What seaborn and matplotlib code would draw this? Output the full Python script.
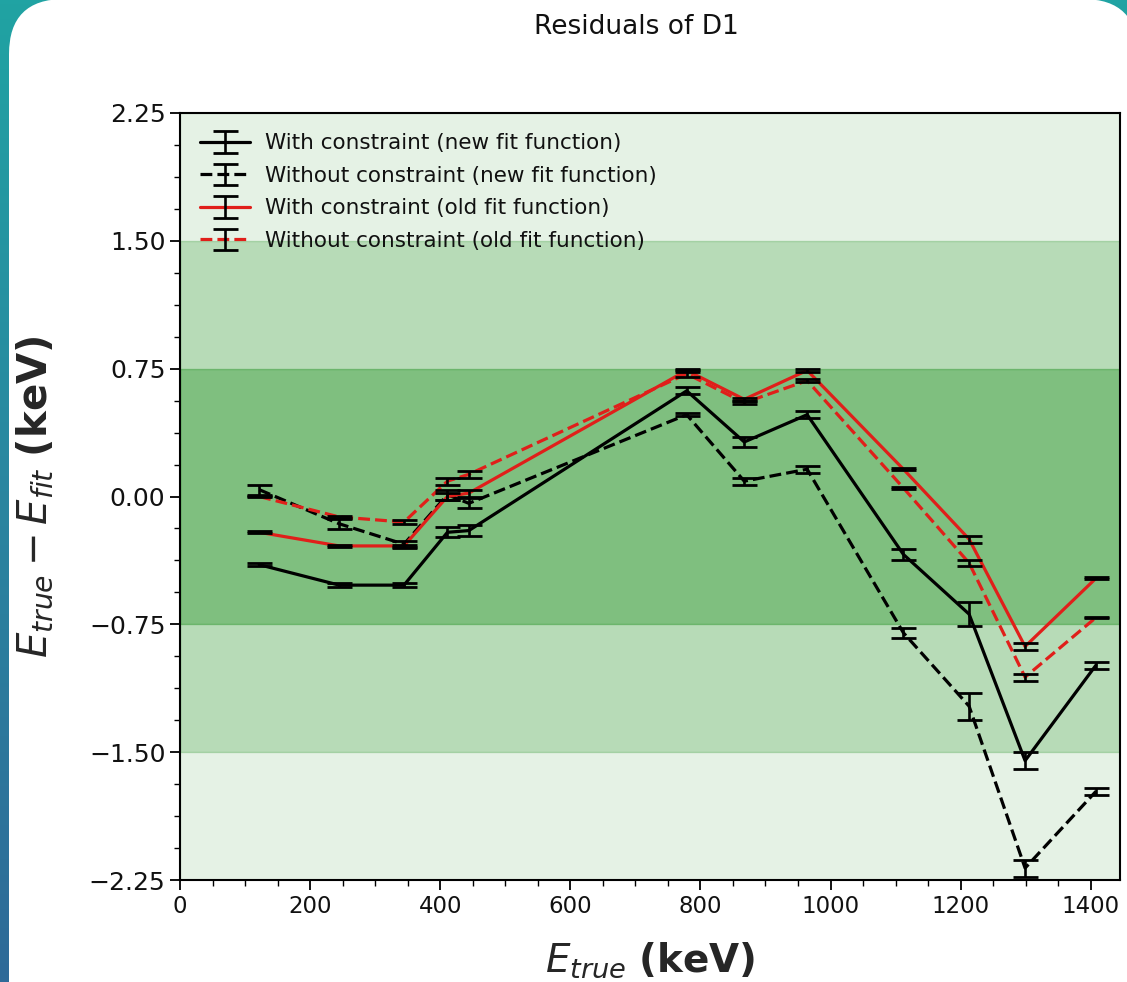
import numpy as np
import pandas as pd
import matplotlib
matplotlib.use("Agg")
import matplotlib.pyplot as plt
import seaborn as sns
from matplotlib.patches import FancyBboxPatch
from matplotlib.transforms import IdentityTransform
from matplotlib.ticker import MultipleLocator, FixedLocator
from matplotlib.legend_handler import HandlerTuple
from matplotlib.colors import LinearSegmentedColormap

# ---- data (Eu-152 lines, keV) ----
energies = [121.8, 244.7, 344.3, 411.1, 444.0, 778.9, 867.4, 964.1, 1112.1, 1213.0, 1299.1, 1408.0]

with_new = [-0.40, -0.52, -0.52, -0.21, -0.20, 0.62, 0.32, 0.48, -0.34, -0.69, -1.55, -0.99]
with_new_err = [0.01, 0.01, 0.01, 0.03, 0.03, 0.02, 0.03, 0.02, 0.03, 0.07, 0.05, 0.02]

without_new = [0.04, -0.16, -0.28, 0.01, -0.04, 0.48, 0.09, 0.16, -0.80, -1.23, -2.18, -1.73]
without_new_err = [0.03, 0.03, 0.02, 0.03, 0.03, 0.01, 0.02, 0.02, 0.03, 0.08, 0.05, 0.02]

with_old = [-0.21, -0.29, -0.29, 0.00, 0.02, 0.74, 0.57, 0.74, 0.16, -0.25, -0.88, -0.48]
with_old_err = [0.005, 0.005, 0.005, 0.02, 0.02, 0.01, 0.01, 0.01, 0.005, 0.02, 0.02, 0.005]

without_old = [0.00, -0.12, -0.15, 0.09, 0.13, 0.72, 0.55, 0.68, 0.05, -0.39, -1.06, -0.71]
without_old_err = [0.005, 0.005, 0.01, 0.02, 0.02, 0.02, 0.01, 0.01, 0.005, 0.02, 0.02, 0.005]

labels = ["With constraint (new fit function)",
          "Without constraint (new fit function)",
          "With constraint (old fit function)",
          "Without constraint (old fit function)"]

y_ticks = [-2.25, -1.50, -0.75, 0.00, 0.75, 1.50, 2.25]
x_ticks = [0, 200, 400, 600, 800, 1000, 1200, 1400]

series = [
    (with_new, with_new_err, "black", "-"),
    (without_new, without_new_err, "black", "--"),
    (with_old, with_old_err, "#e01f1a", "-"),
    (without_old, without_old_err, "#e01f1a", "--"),
]

sns.set_theme(style="ticks")
plt.rcParams["font.family"] = ["DejaVu Sans"]
plt.rcParams["mathtext.fontset"] = "dejavusans"

W, H = 1127, 982
fig = plt.figure(figsize=(W / 100, H / 100), dpi=100)
fig.patch.set_facecolor("#239a9f")

# teal gradient backdrop
bg = fig.add_axes([0, 0, 1, 1], zorder=-20)
grad = np.linspace(0, 1, 256).reshape(-1, 1)
cmap = LinearSegmentedColormap.from_list("teal", ["#20a3a3", "#2a86a0", "#2f6a98"])
bg.imshow(grad, aspect="auto", cmap=cmap, extent=[0, 1, 1, 0])
bg.set_axis_off()

panel = FancyBboxPatch((9, -80), W + 2, H + 81,
                       boxstyle="round,pad=0,rounding_size=55",
                       transform=IdentityTransform(), facecolor="white",
                       edgecolor="none", zorder=-10)
fig.patches.append(panel)

ax = fig.add_axes([180 / W, 1 - 880 / H, (1120 - 180) / W, (880 - 113) / H])

# confidence bands
ax.axhspan(-2.25, 2.25, color="green", alpha=0.1, zorder=0)
ax.axhspan(-1.5, 1.5, color="green", alpha=0.2, zorder=0)
ax.axhspan(-0.75, 0.75, color="green", alpha=0.3, zorder=0)

handles = []
for (vals, errs, col, ls), lab in zip(series, labels):
    df = pd.DataFrame({"E": energies, "res": vals})
    n_before = len(ax.lines)
    sns.lineplot(data=df, x="E", y="res", color=col, linestyle=ls,
                 linewidth=2.3, ax=ax, legend=False, zorder=3)
    line = ax.lines[n_before]
    eb = ax.errorbar(energies, vals, yerr=errs, fmt="none", ecolor="black",
                     elinewidth=1.9, capsize=9, capthick=2.0, zorder=4)
    handles.append((line, eb))

ax.set_xlim(0, 1445)
ax.set_ylim(-2.25, 2.25)
ax.xaxis.set_major_locator(FixedLocator(x_ticks))
ax.xaxis.set_minor_locator(MultipleLocator(50))
ax.yaxis.set_major_locator(FixedLocator(y_ticks))
ax.yaxis.set_minor_locator(MultipleLocator(0.1875))
ax.set_yticklabels([f"{v:.2f}".replace("-", "\u2212") for v in y_ticks])
ax.set_xticklabels([str(v) for v in x_ticks])
ax.tick_params(axis="both", which="major", length=7, width=1.3,
               color="black", labelcolor="#111111", direction="out")
ax.tick_params(axis="x", which="major", labelsize=16.5)
ax.tick_params(axis="y", which="major", labelsize=18)
ax.tick_params(axis="both", which="minor", length=4, width=1.0, color="black",
               direction="out")
for sp in ax.spines.values():
    sp.set_color("black")
    sp.set_linewidth(1.5)
    sp.set_visible(True)

ax.set_xlabel(r"$E_{true}$ $\mathbf{(keV)}$", fontsize=28)
ax.xaxis.set_label_coords(0.5, (880 - 960) / 767, transform=ax.transAxes)
ax.xaxis.label.set_va("center")
ax.set_ylabel(r"$E_{true} - E_{fit}$ $\mathbf{(keV)}$", fontsize=29)
ax.yaxis.set_label_coords((35 - 180) / 940, 0.5, transform=ax.transAxes)
ax.yaxis.label.set_va("center")

leg = ax.legend(handles, labels, loc="upper left", frameon=False, fontsize=15.5,
                handler_map={tuple: HandlerTuple(ndivide=1)},
                handlelength=2.3, labelspacing=0.58, borderaxespad=0.55,
                handletextpad=0.7)
for t in leg.get_texts():
    t.set_color("#111111")

fig.text(636 / W, 1 - 27 / H, "Residuals of D1", ha="center", va="center",
         fontsize=19, color="#111111")

fig.savefig("out.png", dpi=100, facecolor=fig.get_facecolor())
